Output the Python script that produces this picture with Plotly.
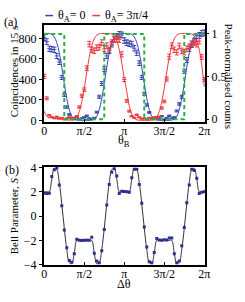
import numpy as np
import plotly.graph_objects as go

# ---------------- data ----------------
# measurement angles theta_B (panel a) and delta-theta (panel b), 0 .. 2pi
theta = np.linspace(0, 2 * np.pi, 65)

# panel (a): coincidences in 15 s
blue_counts = [808, 770, 700, 695, 690, 630, 570, 420, 250, 130, 58, 20, 10, 35, 15, 20, 30,
               45, 20, 10, 25, 80, 230, 360, 500, 630, 680, 745, 790, 820, 840, 835, 780,
               760, 750, 745, 705, 660, 560, 420, 260, 150, 77, 20, 10, 30, 15, 40, 10,
               25, 45, 20, 30, 92, 160, 230, 480, 590, 700, 740, 775, 800, 830, 850, 855]
red_counts = [430, 215, 50, 30, 20, 35, 15, 25, 10, 20, 30, 15, 25, 40, 130, 240, 300,
              510, 745, 690, 680, 710, 715, 760, 700, 730, 690, 760, 790, 800, 790, 645, 400,
              190, 90, 40, 25, 55, 30, 15, 20, 10, 25, 15, 30, 20, 35, 120, 185,
              404, 622, 730, 690, 665, 728, 680, 666, 700, 720, 750, 760, 744, 775, 620, 400]

# smooth model curves (counts)
blue_fit = [850, 850, 848, 840, 815, 760, 660, 520, 360, 215, 105, 40, 12, 3, 0, 0, 0,
            0, 0, 3, 12, 40, 105, 215, 360, 520, 660, 760, 815, 840, 848, 850, 850,
            850, 848, 840, 815, 760, 660, 520, 360, 215, 105, 40, 12, 3, 0, 0, 0,
            0, 0, 3, 12, 40, 105, 215, 360, 520, 660, 760, 815, 840, 848, 850, 850]
red_fit = [90, 40, 25, 35, 20, 15, 25, 10, 5, 5, 3, 2, 9, 32, 86, 182, 317,
           472, 618, 730, 798, 832, 846, 849, 850, 850, 850, 844, 822, 776, 690, 562, 405,
           283, 138, 60, 20, 6, 1, 0, 0, 0, 0, 2, 9, 32, 86, 182, 317,
           472, 618, 730, 798, 832, 846, 849, 850, 850, 850, 844, 822, 776, 690, 540, 330]

# ideal (peak-normalised) square wave
square_theta = [0, np.pi / 4, np.pi / 4, 3 * np.pi / 4, 3 * np.pi / 4, 5 * np.pi / 4,
                5 * np.pi / 4, 7 * np.pi / 4, 7 * np.pi / 4, 2 * np.pi]
square_norm = [1, 1, 0, 0, 1, 1, 0, 0, 1, 1]

# panel (b): Bell parameter S
S_meas = [1.88, 1.85, 1.87, 3.25, 3.80, 3.95, 2.55, 0.85, -1.15, -2.60, -3.65, -3.80, -3.10, -1.90, -2.00, -2.02, -2.00,
          -1.98, -2.00, -1.75, -3.05, -3.70, -3.85, -2.85, -1.10, 0.90, 2.60, 3.60, 3.90, 3.30, 1.85, 2.05, 2.03,
          2.00, 1.95, 3.15, 3.85, 3.85, 2.60, 1.05, -0.90, -2.55, -3.75, -3.85, -3.00, -1.85, -1.97, -1.98, -1.95,
          -1.96, -1.80, -1.80, -3.10, -3.85, -3.70, -2.45, -0.95, 1.10, 2.55, 3.85, 3.75, 3.10, 1.85, 1.95, 2.00]
S_fit = [2.0, 2.0, 2.0, 3.04, 3.92, 3.82, 2.75, 1.0, -1.0, -2.75, -3.82, -3.92, -3.04, -2.0, -2.0, -2.0, -2.0,
         -2.0, -2.0, -2.0, -3.04, -3.92, -3.82, -2.75, -1.0, 1.0, 2.75, 3.82, 3.92, 3.04, 2.0, 2.0, 2.0,
         2.0, 2.0, 3.04, 3.92, 3.82, 2.75, 1.0, -1.0, -2.75, -3.82, -3.92, -3.04, -2.0, -2.0, -2.0, -2.0,
         -2.0, -2.0, -2.0, -3.04, -3.92, -3.82, -2.75, -1.0, 1.0, 2.75, 3.82, 3.92, 3.04, 2.0, 2.0, 2.0]

pi_tickvals = [0, np.pi / 2, np.pi, 3 * np.pi / 2, 2 * np.pi]
pi_ticktext = ["0", "π/2", "π", "3π/2", "2π"]

# ---------------- style ----------------
FONT = "Liberation Serif, Times New Roman, serif"
BLUE = "#3944b0"
RED = "#ee3a3f"
GREEN = "#27b04a"
W, H = 245, 302

def px_x(x):
    return x / W

def px_y(y):
    return 1 - y / H

fig = go.Figure()

# panel (a)
fig.add_trace(go.Scatter(x=theta, y=blue_fit, mode="lines", line=dict(color=BLUE, width=1, shape="spline"),
                         xaxis="x", yaxis="y", showlegend=False, hoverinfo="skip"))
fig.add_trace(go.Scatter(x=theta, y=red_fit, mode="lines", line=dict(color=RED, width=1, shape="spline"),
                         xaxis="x", yaxis="y", showlegend=False, hoverinfo="skip"))
fig.add_trace(go.Scatter(x=square_theta, y=square_norm, mode="lines",
                         line=dict(color=GREEN, width=2, dash="4px,3px"),
                         xaxis="x", yaxis="y2", showlegend=False, hoverinfo="skip"))
fig.add_trace(go.Scatter(x=theta, y=blue_counts, mode="markers",
                         marker=dict(color=BLUE, size=3, symbol="line-ew", line=dict(color=BLUE, width=1)),
                         error_y=dict(type="data", array=np.sqrt(blue_counts), color=BLUE, thickness=1, width=2),
                         xaxis="x", yaxis="y", showlegend=False))
fig.add_trace(go.Scatter(x=theta, y=red_counts, mode="markers",
                         marker=dict(color=RED, size=3, symbol="line-ew", line=dict(color=RED, width=1)),
                         error_y=dict(type="data", array=np.sqrt(red_counts), color=RED, thickness=1, width=2),
                         xaxis="x", yaxis="y", showlegend=False))

# panel (b)
fig.add_trace(go.Scatter(x=theta, y=S_fit, mode="lines", line=dict(color="#333333", width=1, shape="spline"),
                         xaxis="x2", yaxis="y3", showlegend=False, hoverinfo="skip"))
fig.add_trace(go.Scatter(x=theta, y=S_meas, mode="markers",
                         marker=dict(color="#2c2f8f", size=3, symbol="square"),
                         xaxis="x2", yaxis="y3", showlegend=False))

axis_common = dict(showline=True, linecolor="black", linewidth=1.5, mirror=True,
                   ticks="outside", ticklen=3, tickwidth=1, tickcolor="black",
                   showgrid=False, zeroline=False,
                   tickfont=dict(family=FONT, size=12, color="black"))
xaxis_common = dict(axis_common, ticks="inside", ticklabelstandoff=-3)

xdom = [px_x(43), px_x(209)]
fig.update_layout(
    width=W, height=H,
    margin=dict(l=0, r=0, t=0, b=0),
    paper_bgcolor="white", plot_bgcolor="white",
    font=dict(family=FONT, size=12, color="black"),
    xaxis=dict(domain=xdom, anchor="y", range=[-0.02, 2 * np.pi + 0.03],
               tickvals=pi_tickvals, ticktext=pi_ticktext, **xaxis_common),
    yaxis=dict(domain=[px_y(121), px_y(20)], anchor="x", range=[-14, 931],
               tickvals=[0, 200, 400, 600, 800], **axis_common),
    yaxis2=dict(overlaying="y", side="right", anchor="x", range=[-0.03, 1.104],
                tickvals=[0, 0.5, 1], ticktext=["0", "0.5", "1"],
                showline=False, ticks="outside", ticklen=3, tickcolor="black",
                showgrid=False, zeroline=False,
                tickfont=dict(family=FONT, size=12, color="black")),
    xaxis2=dict(domain=xdom, anchor="y3", range=[-0.02, 2 * np.pi + 0.03],
                tickvals=pi_tickvals, ticktext=pi_ticktext, **xaxis_common),
    yaxis3=dict(domain=[px_y(270.7), px_y(168.3)], anchor="x2", range=[-4.03, 4.03],
                tickvals=[-4, -2, 0, 2, 4], ticktext=["−4", "−2", "0", "2", "4"], **axis_common),
)

ann = []
def add_text(text, x, y, size=12, angle=0, xanchor="center"):
    ann.append(dict(text=text, x=px_x(x), y=px_y(y), xref="paper", yref="paper",
                    showarrow=False, textangle=angle, xanchor=xanchor, yanchor="middle",
                    font=dict(family=FONT, size=size, color="black")))

add_text("(a)", 9, 16.5)
add_text("Coincidences in 15 s", 12.5, 69, size=11, angle=-90)
add_text("Peak-normalised counts", 234, 73, size=11, angle=90)
add_text("θ<sub>B</sub>", 126, 141)
add_text("(b)", 10, 171)
add_text("Bell Parameter, <i>S</i>", 12, 219, size=11, angle=-90)
add_text("Δθ", 126, 290)
add_text("θ<sub>A</sub>= 0", 55.5, 10, xanchor="left")
add_text("θ<sub>A</sub>= 3π/4", 103.5, 10, xanchor="left")
fig.update_layout(annotations=ann)

fig.update_layout(shapes=[
    dict(type="line", xref="paper", yref="paper", x0=px_x(44.5), x1=px_x(52.5), y0=px_y(10), y1=px_y(10),
         line=dict(color=BLUE, width=1.5)),
    dict(type="line", xref="paper", yref="paper", x0=px_x(93), x1=px_x(101), y0=px_y(10), y1=px_y(10),
         line=dict(color=RED, width=1.5)),
])

# place the figure at the page's top-left corner (remove the browser's default body margin)
fig.write_html("out.html", config={"displayModeBar": False},
               post_script="document.body.style.margin='0';")
